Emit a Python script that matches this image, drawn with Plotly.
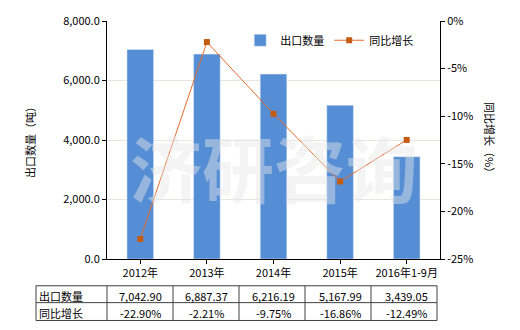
import plotly.graph_objects as go

categories = ["2012年", "2013年", "2014年", "2015年", "2016年1-9月"]
export_qty = [7042.90, 6887.37, 6216.19, 5167.99, 3439.05]
yoy_growth = [-22.90, -2.21, -9.75, -16.86, -12.49]
left_ticks = [0, 2000, 4000, 6000, 8000]
right_ticks = [0, -5, -10, -15, -20, -25]

FONT = "Noto Sans CJK SC, DejaVu Sans, sans-serif"
BAR_COLOR = "#558ED5"
LINE_COLOR = "#E46C2E"
MARK_COLOR = "#C55A11"

L, R, T, B = 107, 80, 19, 71
W, H = 520, 330
plot_h = H - T - B
plot_w = W - L - R

fig = go.Figure()
fig.add_trace(go.Bar(x=list(range(len(categories))), y=export_qty, name="出口数量",
                     marker_color=BAR_COLOR, width=0.4, yaxis="y"))
fig.add_trace(go.Scatter(x=list(range(len(categories))), y=yoy_growth, name="同比增长",
                         mode="lines+markers",
                         line=dict(color=LINE_COLOR, width=1),
                         marker=dict(color=MARK_COLOR, size=6, symbol="square"),
                         yaxis="y2"))

def py(pix):
    return (H - B - pix) / plot_h

shapes = []
annotations = []

# watermark
annotations.append(dict(text="<b>济研咨询</b>", x=0.5, y=py(165), xref="paper", yref="paper",
                        xanchor="center", yanchor="middle",
                        showarrow=False, font=dict(size=72, color="rgba(230,230,230,0.45)", family=FONT)))

# table
t_top, t_mid, t_bot = py(286), py(303), py(321)
t_left = (36 - L) / plot_w
t_rightp = (437 - L) / plot_w
line = dict(color="#404040", width=1)
for yy in (t_top, t_mid, t_bot):
    shapes.append(dict(type="line", xref="paper", yref="paper", x0=t_left, x1=t_rightp,
                       y0=yy, y1=yy, line=line))
shapes.append(dict(type="line", xref="paper", yref="paper", x0=t_left, x1=t_left,
                   y0=t_top, y1=t_bot, line=line))
for i in range(len(categories) + 1):
    xp = (66 * i) / plot_w if i < len(categories) else t_rightp
    shapes.append(dict(type="line", xref="paper", yref="paper", x0=xp, x1=xp,
                       y0=t_top, y1=t_bot, line=line))
row_labels = ["出口数量", "同比增长"]
row_y = [py(295), py(312.5)]
for lab, yy in zip(row_labels, row_y):
    annotations.append(dict(text=lab, x=t_left + 0.004, y=yy - 0.004, xref="paper", yref="paper",
                            xanchor="left", yanchor="middle", showarrow=False,
                            font=dict(size=11, color="#000", family=FONT)))
for i in range(len(categories)):
    annotations.append(dict(text=f"{export_qty[i]:,.2f}", x=i, y=row_y[0] - 0.006, xref="x", yref="paper",
                            xanchor="center", yanchor="middle", showarrow=False,
                            font=dict(size=11, color="#000", family=FONT)))
    annotations.append(dict(text=f"{yoy_growth[i]:.2f}%", x=i, y=row_y[1] - 0.006, xref="x", yref="paper",
                            xanchor="center", yanchor="middle", showarrow=False,
                            font=dict(size=11, color="#000", family=FONT)))

# axis titles
annotations.append(dict(text="出口数量（吨）", x=(30 - L) / plot_w, y=py(139), xref="paper", yref="paper",
                        xanchor="center", yanchor="middle",
                        textangle=-90, showarrow=False, font=dict(size=11, color="#000", family=FONT)))
annotations.append(dict(text="同比增长（%）", x=(490 - L) / plot_w, y=py(139), xref="paper", yref="paper",
                        xanchor="center", yanchor="middle",
                        textangle=90, showarrow=False, font=dict(size=11, color="#000", family=FONT)))

fig.update_layout(
    width=W, height=H,
    margin=dict(l=L, r=R, t=T, b=B),
    paper_bgcolor="white", plot_bgcolor="white",
    font=dict(family=FONT, size=11, color="#000"),
    showlegend=True,
    legend=dict(orientation="h", x=0.40, y=0.98, xanchor="left", yanchor="top",
                bgcolor="rgba(0,0,0,0)", font=dict(size=11, family=FONT)),
    xaxis=dict(range=[-0.5, 4.5], tickvals=list(range(len(categories))), ticktext=categories,
               showline=True, linecolor="#000", linewidth=1,
               ticks="outside", ticklen=4, tickcolor="#000", showgrid=False, zeroline=False,
               tickfont=dict(size=11)),
    yaxis=dict(range=[0, 8000], tickvals=left_ticks, tickformat=",.1f", showline=True,
               linecolor="#000", linewidth=1, ticks="outside", ticklen=4, tickcolor="#000",
               showgrid=True, gridcolor="#E6E6E0", gridwidth=1, zeroline=False, tickfont=dict(size=11)),
    yaxis2=dict(range=[-25, 0], tickvals=right_ticks, ticktext=[f"{v}%" for v in right_ticks],
                overlaying="y", side="right", showline=True, linecolor="#000", linewidth=1,
                ticks="outside", ticklen=4, tickcolor="#000", showgrid=False, zeroline=False,
                tickfont=dict(size=11)),
    shapes=shapes,
    annotations=annotations,
)

fig.write_html("out.html")
